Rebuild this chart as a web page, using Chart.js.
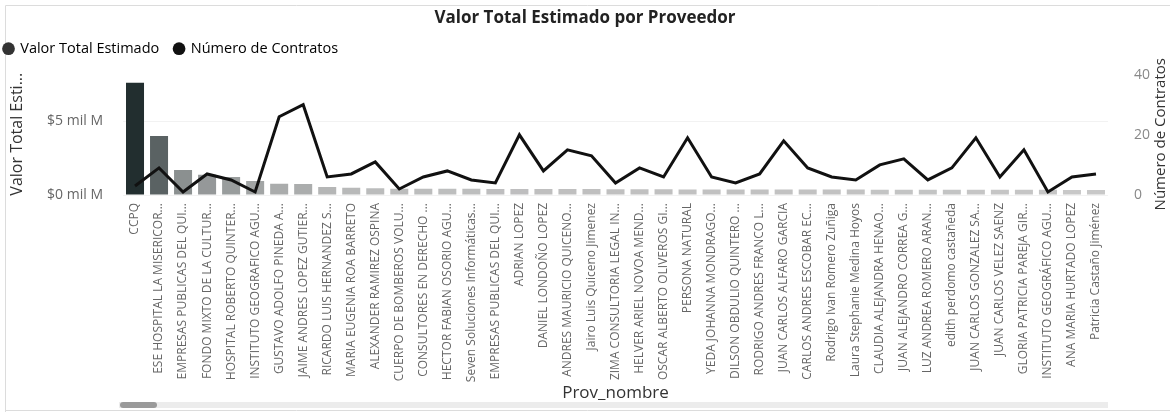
<!DOCTYPE html>
<html>
<head>
<meta charset="utf-8">
<script src="https://cdn.jsdelivr.net/npm/chart.js@4/dist/chart.umd.min.js"></script>
<style>
  html, body { margin: 0; padding: 0; background: #ffffff; }
  #wrap { width: 1170px; height: 413px; position: relative; }
</style>
</head>
<body>
<div id="wrap"><canvas id="c" width="1170" height="413"></canvas></div>
<script>
const categories = [
  "CCPQ",
  "ESE HOSPITAL LA MISERICOR...",
  "EMPRESAS PUBLICAS DEL QUI...",
  "FONDO MIXTO DE LA CULTUR...",
  "HOSPITAL ROBERTO QUINTER...",
  "INSTITUTO GEOGRAFICO AGU...",
  "GUSTAVO ADOLFO PINEDA A...",
  "JAIME ANDRES LOPEZ GUTIER...",
  "RICARDO LUIS HERNANDEZ S...",
  "MARIA EUGENIA ROA BARRETO",
  "ALEXANDER RAMIREZ OSPINA",
  "CUERPO DE BOMBEROS VOLU...",
  "CONSULTORES EN DERECHO ...",
  "HECTOR FABIAN OSORIO AGU...",
  "Seven Soluciones Informáticas...",
  "EMPRESAS PUBLICAS DEL QUI...",
  "ADRIAN LOPEZ",
  "DANIEL LONDOÑO LOPEZ",
  "ANDRES MAURICIO QUICENO...",
  "Jairo Luis Quiceno Jimenez",
  "ZIMA CONSULTORIA LEGAL IN...",
  "HELVER ARIEL NOVOA MEND...",
  "OSCAR ALBERTO OLIVEROS GI...",
  "PERSONA NATURAL",
  "YEDA JOHANNA MONDRAGO...",
  "DILSON OBDULIO QUINTERO ...",
  "RODRIGO ANDRES FRANCO L...",
  "JUAN CARLOS ALFARO GARCIA",
  "CARLOS ANDRES ESCOBAR EC...",
  "Rodrigo Ivan Romero Zuñiga",
  "Laura Stephanie Medina Hoyos",
  "CLAUDIA ALEJANDRA HENAO...",
  "JUAN ALEJANDRO CORREA G...",
  "LUZ ANDREA ROMERO ARAN...",
  "edith perdomo castañeda",
  "JUAN CARLOS GONZALEZ SA...",
  "JUAN CARLOS VELEZ SAENZ",
  "GLORIA PATRICIA PAREJA GIR...",
  "INSTITUTO GEOGRÁFICO AGU...",
  "ANA MARIA HURTADO LOPEZ",
  "Patricia Castaño Jiménez"
];

// Valor Total Estimado, in "mil M" (thousands of millions of pesos)
const valorTotal = [
  7.6, 4.0, 1.7, 1.37, 1.22, 0.95, 0.77, 0.74, 0.54, 0.49,
  0.45, 0.43, 0.43, 0.42, 0.42, 0.41, 0.41, 0.40, 0.40, 0.40,
  0.39, 0.39, 0.39, 0.38, 0.38, 0.38, 0.38, 0.37, 0.37, 0.37,
  0.37, 0.36, 0.36, 0.36, 0.36, 0.35, 0.35, 0.35, 0.35, 0.34,
  0.34
];

// Número de Contratos
const numContratos = [
  3, 9, 1, 7, 5, 1, 26, 30, 6, 7,
  11, 2, 6, 8, 5, 4, 20, 8, 15, 13,
  4, 9, 6, 19, 6, 4, 7, 18, 9, 6,
  5, 10, 12, 5, 9, 19, 6, 15, 1, 6,
  7
];

const leftTicks = [0, 5];
const rightTicks = [0, 20, 40];
const leftTickLabel = v => "$" + v + " mil M";
const legendNames = ['Valor Total Estimado', 'Número de Contratos'];

const FONT = "'Open Sans', 'Noto Sans', 'DejaVu Sans', sans-serif";

// colour scale (light gray -> dark slate) driven by the bar value
const vMin = Math.min(...valorTotal), vMax = Math.max(...valorTotal);
function shade(v) {
  const f = Math.pow((v - vMin) / (vMax - vMin), 0.6);
  const lo = [200, 200, 200], hi = [34, 46, 47];
  const c = lo.map((l, i) => Math.round(l + (hi[i] - l) * f));
  return `rgb(${c[0]},${c[1]},${c[2]})`;
}
const barColors = valorTotal.map(shade);

const LEGEND_HEIGHT = 36;

const decor = {
  id: 'decor',
  beforeLayout(chart) {
    const lg = chart.legend;
    if (lg && !lg._fitWrapped) {
      const orig = lg.fit;
      lg.fit = function () { orig.call(this); this.height = LEGEND_HEIGHT; };
      lg._fitWrapped = true;
    }
  },
  beforeDraw(chart) {
    const ctx = chart.ctx;
    ctx.save();
    ctx.strokeStyle = '#dcdcdc';
    ctx.lineWidth = 1;
    ctx.beginPath();
    ctx.moveTo(5.5, 412);
    ctx.lineTo(5.5, 5.5);
    ctx.lineTo(1170, 5.5);
    ctx.stroke();
    ctx.beginPath();
    ctx.moveTo(5.5, 410.5);
    ctx.lineTo(1170, 410.5);
    ctx.stroke();
    ctx.restore();
  },
  afterDraw(chart) {
    const ctx = chart.ctx;
    const area = chart.chartArea;
    ctx.save();
    // scrollbar
    ctx.fillStyle = '#ececec';
    ctx.fillRect(area.left - 4, 402, area.right - area.left + 4, 6);
    ctx.fillStyle = '#9a9a9a';
    const r = 3, x0 = 120, x1 = 157, y0 = 402, y1 = 408;
    ctx.beginPath();
    ctx.moveTo(x0 + r, y0);
    ctx.lineTo(x1 - r, y0);
    ctx.arc(x1 - r, y0 + r, r, -Math.PI / 2, Math.PI / 2);
    ctx.lineTo(x0 + r, y1);
    ctx.arc(x0 + r, y0 + r, r, Math.PI / 2, Math.PI * 1.5);
    ctx.fill();
    // right axis title (reads bottom to top)
    ctx.translate(1161, (area.top + area.bottom) / 2);
    ctx.rotate(-Math.PI / 2);
    ctx.fillStyle = '#333333';
    ctx.font = "15px " + FONT;
    ctx.textAlign = 'center';
    ctx.textBaseline = 'middle';
    ctx.fillText('Número de Contratos', 0, 0);
    ctx.restore();
  }
};

new Chart(document.getElementById('c'), {
  type: 'bar',
  data: {
    labels: categories,
    datasets: [
      {
        type: 'line',
        label: legendNames[1],
        data: numContratos,
        yAxisID: 'y1',
        borderColor: '#111111',
        backgroundColor: '#111111',
        borderWidth: 3,
        pointRadius: 0,
        tension: 0,
        order: 0
      },
      {
        type: 'bar',
        label: legendNames[0],
        data: valorTotal,
        yAxisID: 'y',
        backgroundColor: barColors,
        borderWidth: 0,
        barPercentage: 0.75,
        categoryPercentage: 1.0,
        order: 1
      }
    ]
  },
  options: {
    responsive: false,
    animation: false,
    devicePixelRatio: 1,
    layout: { padding: { left: 0, right: 0, top: 0, bottom: 0 } },
    plugins: {
      title: {
        display: true,
        text: 'Valor Total Estimado por Proveedor',
        color: '#222222',
        font: { family: FONT, size: 17, weight: 'bold' },
        padding: { top: 8, bottom: 9 }
      },
      legend: {
        display: true,
        position: 'top',
        align: 'start',
        labels: {
          usePointStyle: true,
          pointStyle: 'circle',
          boxWidth: 9,
          boxHeight: 9,
          padding: 4,
          color: '#555555',
          font: { family: FONT, size: 14.5 },
          generateLabels() {
            return [
              { text: legendNames[0] + '   ', fillStyle: '#333333', strokeStyle: '#333333', lineWidth: 0, pointStyle: 'circle', datasetIndex: 1 },
              { text: legendNames[1], fillStyle: '#111111', strokeStyle: '#111111', lineWidth: 0, pointStyle: 'circle', datasetIndex: 0 }
            ];
          }
        }
      },
      tooltip: { enabled: false }
    },
    scales: {
      x: {
        grid: { display: false, drawTicks: false },
        border: { display: false },
        ticks: {
          autoSkip: false,
          minRotation: 90,
          maxRotation: 90,
          padding: 8,
          color: '#666666',
          font: { family: FONT, size: 12 }
        },
        title: {
          display: true,
          text: 'Prov_nombre',
          color: '#333333',
          font: { family: FONT, size: 17 },
          padding: { top: 4, bottom: 10 }
        },
        afterFit(scale) { scale.height = 218; }
      },
      y: {
        position: 'left',
        min: 0,
        max: 8.24,
        afterBuildTicks(scale) { scale.ticks = leftTicks.map(v => ({ value: v })); },
        grid: { color: 'rgba(0,0,0,0.05)', drawTicks: false },
        border: { display: false },
        ticks: {
          padding: 20,
          color: '#666666',
          font: { family: FONT, size: 14 },
          callback: v => leftTickLabel(v)
        },
        title: {
          display: true,
          text: 'Valor Total Esti...',
          color: '#333333',
          font: { family: FONT, size: 16 },
          padding: { top: 8, bottom: 0 }
        },
        afterFit(scale) { scale.width = 123; }
      },
      y1: {
        position: 'right',
        min: 0,
        max: 40.4,
        afterBuildTicks(scale) { scale.ticks = rightTicks.map(v => ({ value: v })); },
        grid: { display: false, drawTicks: false },
        border: { display: false },
        ticks: {
          padding: 26,
          color: '#888888',
          font: { family: FONT, size: 14 }
        },
        afterFit(scale) { scale.width = 62; }
      }
    }
  },
  plugins: [decor]
});
</script>
</body>
</html>
